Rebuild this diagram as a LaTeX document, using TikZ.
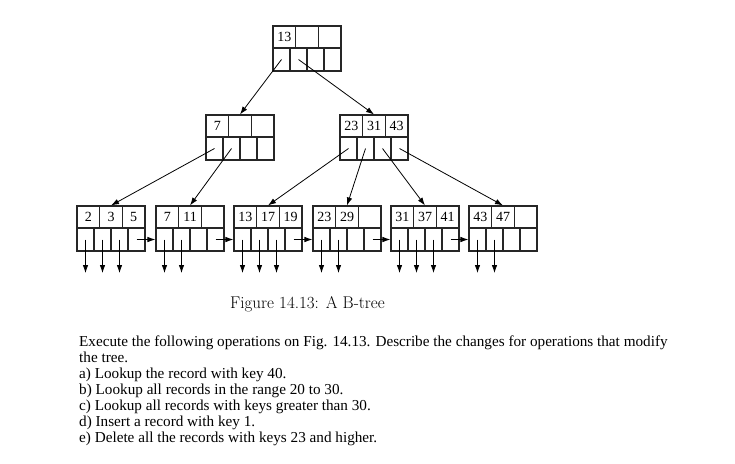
\documentclass[tikz,border=0pt]{standalone}
\usepackage{fontspec}
\newfontfamily\timesfont{Liberation Serif}
\usepackage{tikz}
\usetikzlibrary{arrows.meta, calc, positioning}
\definecolor{cellGray}{HTML}{262626}
\tikzset{
  keycell/.style={draw=cellGray, line width=1.1pt, minimum width=22.67pt,
    minimum height=22pt, inner sep=0pt,
    font=\timesfont\fontsize{14}{16}\selectfont},
  ptrcell/.style={draw=cellGray, line width=1.1pt, minimum width=17pt,
    minimum height=23pt, inner sep=0pt},
  ptr/.style={-{Latex[length=8pt,width=5.5pt]}, line width=0.8pt},
  qline/.style={anchor=base west, inner sep=0pt,
    font=\timesfont\fontsize{15.2}{16}\selectfont}
}
% one B-tree block: name, top-left x, top-left y, three keys
\newcommand{\btnode}[6]{%
  \foreach \k [count=\i] in {#4,#5,#6}
    \node[keycell] (#1-k\i) at ({#2+22.67*\i-11.33},{#3+11}) {\k};
  \foreach \i in {1,...,4}
    \node[ptrcell] (#1-p\i) at ({#2+17*\i-8.5},{#3+33.5}) {};}

\begin{document}
\begin{tikzpicture}[x=1pt, y=-1pt]
  \useasboundingbox (0,0) rectangle (735,463);
  % ---- root ----
  \btnode{root}{273}{26}{13}{}{}
  % ---- interior ----
  \btnode{inA}{206}{115}{7}{}{}
  \btnode{inB}{340}{115}{23}{31}{43}
  % ---- leaves ----
  \btnode{lf1}{77}{206}{2}{3}{5}
  \btnode{lf2}{156}{206}{7}{11}{}
  \btnode{lf3}{234}{206}{13}{17}{19}
  \btnode{lf4}{313}{206}{23}{29}{}
  \btnode{lf5}{391}{206}{31}{37}{41}
  \btnode{lf6}{469}{206}{43}{47}{}
  % tree pointers
  \draw[ptr] (root-p1.center) -- (inA-k2.north);
  \draw[ptr] (root-p2.center) -- (inB-k2.north);
  \draw[ptr] (inA-p1.center) -- (lf1-k2.north);
  \draw[ptr] (inA-p2.center) -- (lf2-k2.north);
  \foreach \i/\j in {1/3,2/4,3/5,4/6}
    \draw[ptr] (inB-p\i.center) -- (lf\j-k2.north);
  % leaf chain
  \foreach \i [evaluate=\i as \j using int(\i+1)] in {1,...,5}
    \draw[ptr] (lf\i-p4.center) -- (lf\j-p1.west);
  % record pointers
  \foreach \l/\n in {1/3,2/2,3/3,4/2,5/3,6/2}
    \foreach \i in {1,...,\n} {
      \coordinate (lf\l-r\i) at ($(lf\l-p\i.center)+(0,33.5)$);
      \draw[ptr] (lf\l-p\i.center) -- (lf\l-r\i);
    }
  % caption and exercise
  \node[anchor=base, inner sep=0pt, font=\fontsize{17}{20}\selectfont]
    (cap) at (307.5,308) {Figure 14.13: A B-tree};
  \foreach \t [count=\i] in {Execute the following operations on Fig. 14.13. Describe the changes for operations that modify,
      the tree., a) Lookup the record with key 40., b) Lookup all records in the range 20 to 30.,
      c) Lookup all records with keys greater than 30., d) Insert a record with key 1.,
      e) Delete all the records with keys 23 and higher.}
    \node[qline] (q\i) at (79,{330+16*\i}) {\t};
\end{tikzpicture}
\end{document}
